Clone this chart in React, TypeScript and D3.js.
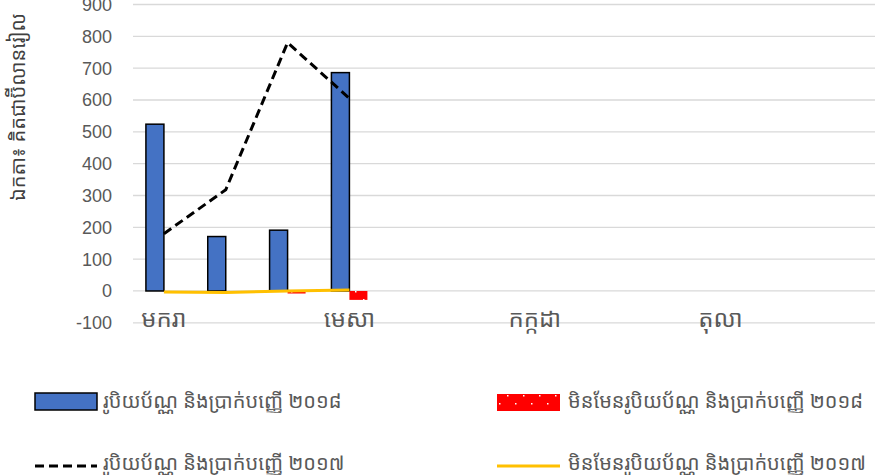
import React from "react";
import * as d3 from "d3";

const months = ["មករា", "កុម្ភៈ", "មីនា", "មេសា", "ឧសភា", "មិថុនា", "កក្កដា", "សីហា", "កញ្ញា", "តុលា", "វិច្ឆិកា", "ធ្នូ"];
const shownLabels = ["មករា", "មេសា", "កក្កដា", "តុលា"];
const actual2018: (number | null)[] = [524, 171, 191, 686, null, null, null, null, null, null, null, null];
const unrealized2018: (number | null)[] = [0, 0, -8, -28, null, null, null, null, null, null, null, null];
const actual2017: (number | null)[] = [180, 318, 780, 605, null, null, null, null, null, null, null, null];
const unrealized2017: (number | null)[] = [-3, -5, 0, 3, null, null, null, null, null, null, null, null];
const yTicks = [-100, 0, 100, 200, 300, 400, 500, 600, 700, 800, 900];
const yTitle = "ឯកតា៖ គិតជាប៊ីលានរៀល";
const legendLabels = [
  "រូបិយប័ណ្ណ និងប្រាក់បញ្ញើ ២០១៨",
  "មិនមែនរូបិយប័ណ្ណ និងប្រាក់បញ្ញើ ២០១៨",
  "រូបិយប័ណ្ណ និងប្រាក់បញ្ញើ ២០១៧",
  "មិនមែនរូបិយប័ណ្ណ និងប្រាក់បញ្ញើ ២០១៧",
];

const W = 879;
const H = 475;
const KH = "'Khmer OS', 'Noto Sans Khmer', 'Khmer OS System', 'DejaVu Sans', sans-serif";
const NUM = "'Liberation Sans', Arial, sans-serif";

export default function App() {
  const plotL = 133;
  const plotR = 875;
  const x = d3.scaleBand<string>().domain(months).range([plotL, plotR]);
  const y = d3.scaleLinear().domain([-100, 900]).range([322.8, 4.5]);
  const barW = 18;
  const cx = (m: string) => (x(m) as number) + x.bandwidth() / 2;

  const idx = d3.range(months.length);
  const lineGen = d3
    .line<number>()
    .defined((i) => actual2017[i] !== null)
    .x((i) => cx(months[i]))
    .y((i) => y(actual2017[i] as number));
  const lineGen2 = d3
    .line<number>()
    .defined((i) => unrealized2017[i] !== null)
    .x((i) => cx(months[i]))
    .y((i) => y(unrealized2017[i] as number));

  const grey = "#595959";

  return (
    <div style={{ position: "absolute", left: 0, top: 0, width: W, height: H, background: "#fff" }}>
      <svg width={W} height={H} style={{ display: "block" }}>
        <defs>
          <pattern id="dots" width="16" height="16" patternUnits="userSpaceOnUse">
            <rect width="16" height="16" fill="#FF0000" />
            <rect x="3" y="3" width="1.5" height="1.5" fill="#fff" />
            <rect x="11" y="11" width="1.5" height="1.5" fill="#fff" />
          </pattern>
        </defs>
        {yTicks.map((t) => (
          <line key={t} x1={plotL} x2={plotR} y1={y(t)} y2={y(t)} stroke="#d9d9d9" strokeWidth={1.3} />
        ))}
        {yTicks.map((t) => (
          <text key={"l" + t} x={112} y={y(t)} dy="0.36em" textAnchor="end" fontFamily={NUM} fontSize={18} fill={grey}>
            {t}
          </text>
        ))}
        <text
          transform={`translate(25,107) rotate(-90)`}
          textAnchor="middle"
          fontFamily={KH}
          fontSize={20}
          fill="#404040"
        >
          {yTitle}
        </text>
        {months.map((m, i) =>
          actual2018[i] === null ? null : (
            <rect
              key={"b" + i}
              x={cx(m) - barW}
              y={y(Math.max(0, actual2018[i] as number))}
              width={barW}
              height={Math.abs(y(actual2018[i] as number) - y(0))}
              fill="#4472C4"
              stroke="#000"
              strokeWidth={1.5}
            />
          )
        )}
        {months.map((m, i) =>
          unrealized2018[i] === null || unrealized2018[i] === 0 ? null : (
            <rect
              key={"r" + i}
              x={cx(m)}
              y={y(Math.max(0, unrealized2018[i] as number))}
              width={barW}
              height={Math.abs(y(unrealized2018[i] as number) - y(0))}
              fill="url(#dots)"
            />
          )
        )}
        <path d={lineGen(idx) || ""} fill="none" stroke="#000" strokeWidth={3} strokeDasharray="9,5" />
        <path d={lineGen2(idx) || ""} fill="none" stroke="#FFC000" strokeWidth={3} />
        {shownLabels.map((m) => (
          <text key={"x" + m} x={cx(m)} y={327} textAnchor="middle" fontFamily={KH} fontSize={24} fill={grey}>
            {m}
          </text>
        ))}
        <rect x={35} y={393} width={62} height={17} fill="#4472C4" stroke="#000" strokeWidth={1.5} />
        <text x={103} y={408} fontFamily={KH} fontSize={20} fill={grey}>{legendLabels[0]}</text>
        <rect x={497} y={394} width={63} height={17} fill="url(#dots)" />
        <text x={568} y={408} fontFamily={KH} fontSize={20} fill={grey}>{legendLabels[1]}</text>
        <line x1={35} x2={97} y1={466} y2={466} stroke="#000" strokeWidth={3} strokeDasharray="9,5" />
        <text x={103} y={470} fontFamily={KH} fontSize={20} fill={grey}>{legendLabels[2]}</text>
        <line x1={497} x2={560} y1={466} y2={466} stroke="#FFC000" strokeWidth={3} />
        <text x={568} y={470} fontFamily={KH} fontSize={20} fill={grey}>{legendLabels[3]}</text>
      </svg>
    </div>
  );
}
